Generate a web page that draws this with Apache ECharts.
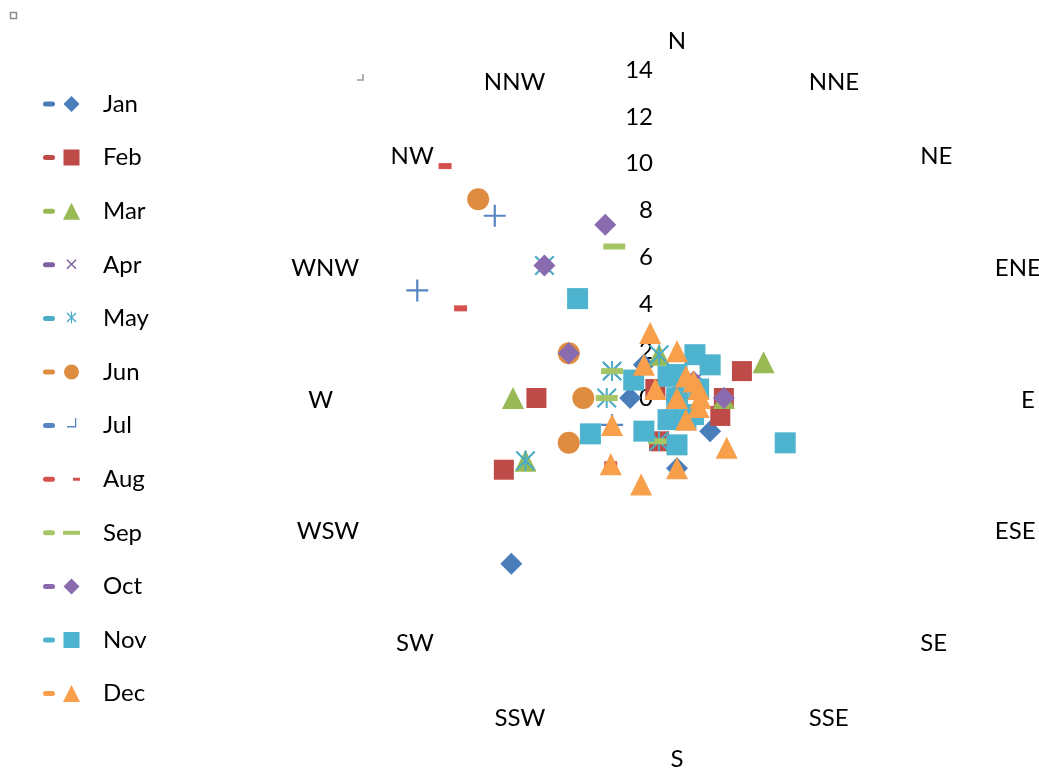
<!DOCTYPE html>
<html>
<head>
<meta charset="utf-8">
<script src="https://cdn.jsdelivr.net/npm/echarts@6/dist/echarts.min.js"></script>
<style>
  html, body { margin: 0; padding: 0; background: #fff; }
  #chart { width: 1039px; height: 769px; }
</style>
</head>
<body>
<div id="chart"></div>
<script>
// ---- data (clockwise order starting at N) ----
const directions = ['N','NNE','NE','ENE','E','ESE','SE','SSE','S','SSW','SW','WSW','W','WNW','NW','NNW'];
const months = ['Jan','Feb','Mar','Apr','May','Jun','Jul','Aug','Sep','Oct','Nov','Dec'];
const radiusMin = 0;
const radiusMax = 14;
const radiusStep = 2;
//            N NNE NE ENE E ESE SE SSE S SSW SW WSW W WNW NW NNW
const jan = [0, 0, 0, 0, 0, 0, 2, 0, 3, 0, 10, 0, 2, 0, 2, 0];
const feb = [0, 0, 0, 3, 2, 2, 0, 0, 0, 2, 0, 8, 6, 1, 0, 0];
const mar = [0, 0, 0, 4, 2, 0, 0, 0, 0, 0, 0, 7, 7, 0, 0, 2];
const apr = [0, 0, 1, 0, 0, 0, 0, 0, 0, 0, 0, 0, 0, 3, 0, 0];
const may = [0, 0, 0, 0, 0, 0, 0, 0, 0, 2, 0, 7, 3, 3, 8, 2];
const jun = [0, 0, 0, 0, 0, 0, 0, 0, 0, 0, 0, 5, 4, 5, 12, 0];
const jul = [0, 0, 0, 0, 0, 0, 0, 0, 0, 0, 0, 3, 0, 12, 11, 0];
const aug = [0, 0, 0, 0, 0, 0, 0, 0, 0, 0, 4, 0, 0, 10, 14, 0];
const sep = [0, 0, 0, 0, 0, 0, 0, 0, 0, 2, 0, 0, 3, 3, 0, 7];
const oct = [0, 0, 1, 0, 2, 0, 0, 0, 0, 0, 0, 0, 0, 5, 8, 8];
const nov = [1, 2, 2, 1, 0, 5, 1, 1, 2, 1, 2, 4, 0, 2, 6, 1];
const dec = [2, 1, 1, 1, 1, 1, 3, 1, 3, 4, 4, 3, 0, 1, 2, 3];
const seriesValues = [jan, feb, mar, apr, may, jun, jul, aug, sep, oct, nov, dec];

// ---- styles ----
const colors = ['#4A7EBB','#BE4B48','#98B954','#7D60A0','#4BACC6','#DE8C40',
                '#5885C2','#D5514D','#A6C567','#8A6BAF','#4DB3CF','#F89F4C'];
const X_PATH = 'path://M1.5,0 L10,8.5 L18.5,0 L20,1.5 L11.5,10 L20,18.5 L18.5,20 L10,11.5 L1.5,20 L0,18.5 L8.5,10 L0,1.5 Z';
const STAR_PATH = 'path://M1.5,0 L10,8.5 L18.5,0 L20,1.5 L11.5,10 L20,18.5 L18.5,20 L10,11.5 L1.5,20 L0,18.5 L8.5,10 L0,1.5 Z M9,0 L11,0 L11,20 L9,20 Z';
const PLUS_PATH = 'path://M9,0 L11,0 L11,9 L20,9 L20,11 L11,11 L11,20 L9,20 L9,11 L0,11 L0,9 L9,9 Z';
const symbols = ['diamond','rect','triangle',X_PATH,STAR_PATH,'circle',PLUS_PATH,'rect','rect','diamond','rect','triangle'];
const symbolSizes = [22, 20, 22, 17, 20, 22, 22, [13,6], [22,6], 22, 21, 22];

// legend icons: short rounded line + marker, all in a 37x17 box
const corner = 'M0,0 L0.01,0 L0,0.01 Z M37,17 L36.99,17 L37,16.99 Z ';
const bar = 'M2.5,6 L9.5,6 A2.5,2.5 0 0 1 9.5,11 L2.5,11 A2.5,2.5 0 0 1 2.5,6 Z ';
const mk = {
  diamond: 'M28.5,0.5 L36.5,8.5 L28.5,16.5 L20.5,8.5 Z',
  square: 'M20.5,0.5 L36.5,0.5 L36.5,16.5 L20.5,16.5 Z',
  triangle: 'M28.5,0 L37,17 L20,17 Z',
  x: 'M23.5,4 L24.5,3 L28.5,7 L32.5,3 L33.5,4 L29.5,8 L33.5,12 L32.5,13 L28.5,9 L24.5,13 L23.5,12 L27.5,8 Z',
  star: 'M23.5,3.5 L24.5,2.5 L28.5,6.5 L32.5,2.5 L33.5,3.5 L29.5,7.5 L33.5,11.5 L32.5,12.5 L28.5,8.5 L24.5,12.5 L23.5,11.5 L27.5,7.5 Z M28,1.5 L29,1.5 L29,13.5 L28,13.5 Z',
  circle: 'M28.5,1 A7.5,7.5 0 1 1 28.49,1 Z',
  plus: 'M32,1 L33.3,1 L33.3,10.3 L24,10.3 L24,9 L32,9 Z',
  dash: 'M30,7 L37,7 L37,10 L30,10 Z',
  longdash: 'M20,6.5 L37,6.5 L37,10.5 L20,10.5 Z'
};
const legendMarkers = ['diamond','square','triangle','x','star','circle','plus','dash','longdash','diamond','square','triangle'];
const legendIcons = legendMarkers.map(k => 'path://' + corner + bar + mk[k]);

// radar indicators go counter-clockwise; reorder so the picture reads clockwise
const order = directions.map((_, i) => (directions.length - i) % directions.length);
const FONT = 'Lato';

const chart = echarts.init(document.getElementById('chart'), null, { renderer: 'canvas' });
const labelStyle = { show: true, color: '#000', fontSize: 24, fontFamily: FONT, margin: 24 };

chart.setOption({
  animation: false,
  backgroundColor: '#fff',
  legend: {
    orient: 'vertical',
    left: 43,
    top: 89,
    padding: 0,
    itemWidth: 37,
    itemHeight: 17,
    itemGap: 23.6,
    selectedMode: false,
    textStyle: { fontSize: 24, fontFamily: FONT, color: '#000', lineHeight: 30, padding: [0, 0, 0, 18] },
    data: months.map((m, i) => ({ name: m, icon: legendIcons[i] }))
  },
  radar: {
    center: [677, 398],
    radius: 328,
    startAngle: 90,
    splitNumber: (radiusMax - radiusMin) / radiusStep,
    shape: 'circle',
    nameGap: 16,
    axisName: {
      color: '#000', fontSize: 24, fontFamily: FONT,
      formatter: (name) => '{s|}\n{t|' + name + '}',
      rich: {
        s: { lineHeight: 4, fontSize: 1 },
        t: { color: '#000', fontSize: 24, fontFamily: FONT, lineHeight: 26 }
      }
    },
    axisLine: { show: false },
    axisTick: { show: false },
    splitLine: { show: false },
    splitArea: { show: false },
    axisLabel: { show: false },
    indicator: order.map((d, k) => {
      const ind = { name: directions[d], min: radiusMin, max: radiusMax };
      if (k === 0) ind.axisLabel = labelStyle;
      return ind;
    })
  },
  graphic: [
    { type: 'rect', shape: { x: 10.5, y: 12.5, width: 6, height: 6 }, style: { fill: 'none', stroke: '#8c8c8c', lineWidth: 1.5 }, silent: true },
    { type: 'polyline', shape: { points: [[363, 74], [363, 80], [357, 80]] }, style: { fill: 'none', stroke: '#9a9a9a', lineWidth: 1.5 }, silent: true }
  ],
  series: seriesValues.map((vals, i) => ({
    type: 'radar',
    name: months[i],
    symbol: symbols[i],
    symbolSize: symbolSizes[i],
    itemStyle: { color: colors[i] },
    lineStyle: { opacity: 0, width: 0 },
    emphasis: { disabled: true },
    silent: true,
    data: [{ name: months[i], value: order.map(d => vals[d]) }]
  }))
});
</script>
</body>
</html>
